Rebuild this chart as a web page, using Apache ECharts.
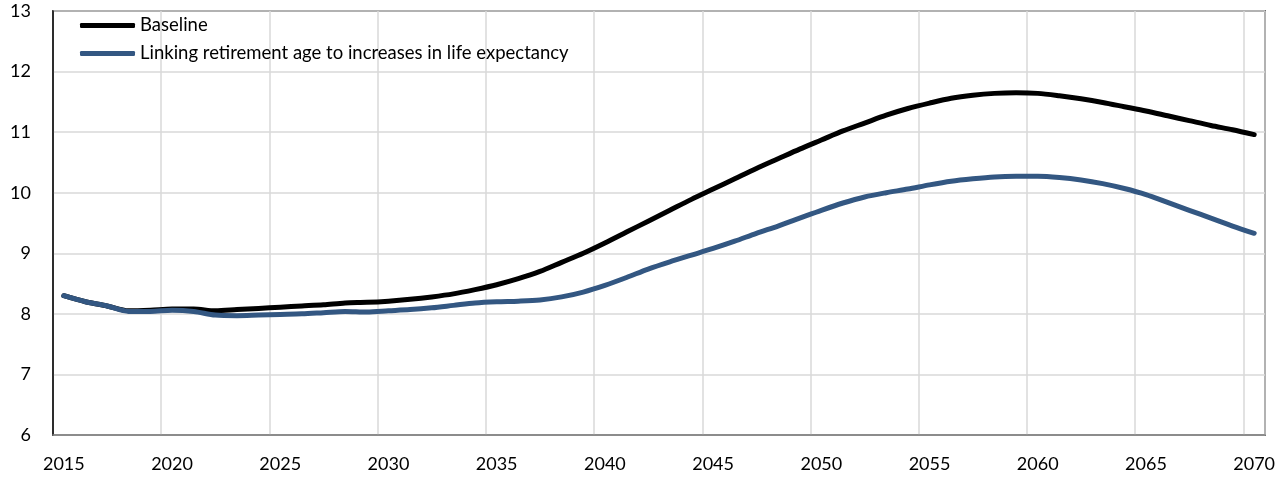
<!DOCTYPE html>
<html><head><meta charset="utf-8">
<script src="https://cdn.jsdelivr.net/npm/echarts@6/dist/echarts.min.js"></script>
<style>html,body{margin:0;padding:0;background:#fff}#c{width:1288px;height:480px}</style>
</head><body><div id="c"></div>
<script>
const years = [];
for (let y = 2015; y <= 2070; y++) years.push(String(y));
const baselineName = 'Baseline';
const linkedName = 'Linking retirement age to increases in life expectancy';
const baseline = [8.30,8.20,8.13,8.05,8.06,8.08,8.08,8.05,8.07,8.09,
  8.11,8.13,8.15,8.18,8.19,8.21,8.24,8.28,8.33,8.40,
  8.48,8.58,8.70,8.85,9.00,9.17,9.35,9.53,9.71,9.89,
  10.06,10.23,10.40,10.56,10.72,10.87,11.02,11.15,11.28,11.39,
  11.48,11.56,11.61,11.64,11.65,11.64,11.60,11.55,11.49,11.42,
  11.35,11.27,11.19,11.11,11.04,10.96];
const linked = [8.30,8.20,8.13,8.04,8.04,8.06,8.04,7.98,7.97,7.98,
  7.99,8.00,8.02,8.04,8.03,8.05,8.07,8.10,8.14,8.18,
  8.20,8.21,8.23,8.28,8.36,8.47,8.60,8.74,8.86,8.97,
  9.08,9.20,9.33,9.45,9.58,9.71,9.83,9.93,10.00,10.06,
  10.13,10.19,10.23,10.26,10.27,10.27,10.25,10.21,10.15,10.07,
  9.97,9.84,9.71,9.58,9.45,9.33];

const chart = echarts.init(document.getElementById('c'));
const font = 'Lato, Carlito, "Open Sans", sans-serif';
chart.setOption({
  animation: false,
  grid: {left: 53, right: 23, top: 11, bottom: 45, show: true, borderColor: '#000', borderWidth: 1.5},
  legend: {
    left: 80, top: 16, padding: 0, orient: 'vertical', itemWidth: 55, itemHeight: 5, itemGap: 9,
    icon: 'roundRect',
    textStyle: {fontFamily: font, fontSize: 18.5, color: '#000', padding: [0,0,0,0]},
    data: [baselineName, linkedName]
  },
  xAxis: {
    type: 'category', data: years, boundaryGap: true,
    axisLine: {lineStyle: {color: '#808080', width: 1.5}},
    axisTick: {show: false},
    axisLabel: {interval: 4, fontFamily: font, fontSize: 18, color: '#000', margin: 20},
    splitLine: {show: true, interval: 4, lineStyle: {color: '#d9d9d9', width: 1.5}}
  },
  yAxis: {
    type: 'value', min: 6, max: 13, interval: 1,
    axisLine: {show: true, lineStyle: {color: '#000', width: 1.5}},
    axisTick: {show: false},
    axisLabel: {fontFamily: font, fontSize: 18, color: '#000', margin: 22},
    splitLine: {lineStyle: {color: '#d9d9d9', width: 1.5}}
  },
  series: [
    {name: baselineName, type: 'line', data: baseline, smooth: 0.3, showSymbol: false,
     lineStyle: {color: '#000', width: 5, cap: 'round'}, itemStyle: {color: '#000'}},
    {name: linkedName, type: 'line', data: linked, smooth: 0.3, showSymbol: false,
     lineStyle: {color: '#335782', width: 5, cap: 'round'}, itemStyle: {color: '#335782'}}
  ]
});
</script></body></html>
